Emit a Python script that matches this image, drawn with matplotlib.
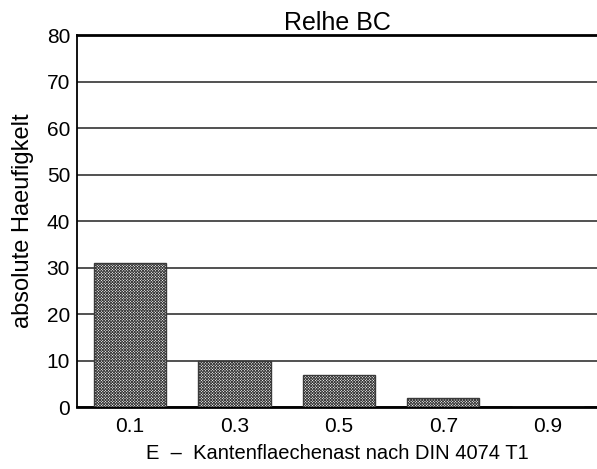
import numpy as np
import matplotlib.pyplot as plt

plt.rcParams['font.family'] = ['Liberation Sans', 'DejaVu Sans']
plt.rcParams['hatch.linewidth'] = 0.6

categories = ["0.1", "0.3", "0.5", "0.7", "0.9"]
counts = [31, 10, 7, 2, 0]
y_ticks = [0, 10, 20, 30, 40, 50, 60, 70, 80]

fig = plt.figure(figsize=(5.97, 4.69), dpi=100)
ax = fig.add_axes([0.129, 0.132, 0.871, 0.793])

x = np.arange(len(categories))
ax.bar(x, counts, width=0.69, color="white", edgecolor="#3a3a3a",
       hatch="x" * 12, linewidth=1.0, zorder=3)

ax.set_xlim(-0.507, 4.47)
ax.set_ylim(0, 80)
ax.set_xticks(x)
ax.set_xticklabels(categories)
ax.set_yticks(y_ticks)
ax.tick_params(axis="x", length=0, labelsize=15, pad=7)
ax.tick_params(axis="y", length=0, labelsize=15, pad=5)
ax.yaxis.grid(True, color="#222222", linewidth=1.1)
ax.set_axisbelow(True)

for side in ["top", "bottom"]:
    ax.spines[side].set_linewidth(2)
ax.spines["left"].set_linewidth(1.3)
ax.spines["right"].set_visible(False)

ax.set_title("Relhe BC", fontsize=18, pad=3)
ax.set_xlabel("E  –  Kantenflaechenast nach DIN 4074 T1", fontsize=14.5, labelpad=6)
ax.set_ylabel("absolute Haeufigkelt", fontsize=17, labelpad=9)

fig.savefig("out.png", dpi=100)
